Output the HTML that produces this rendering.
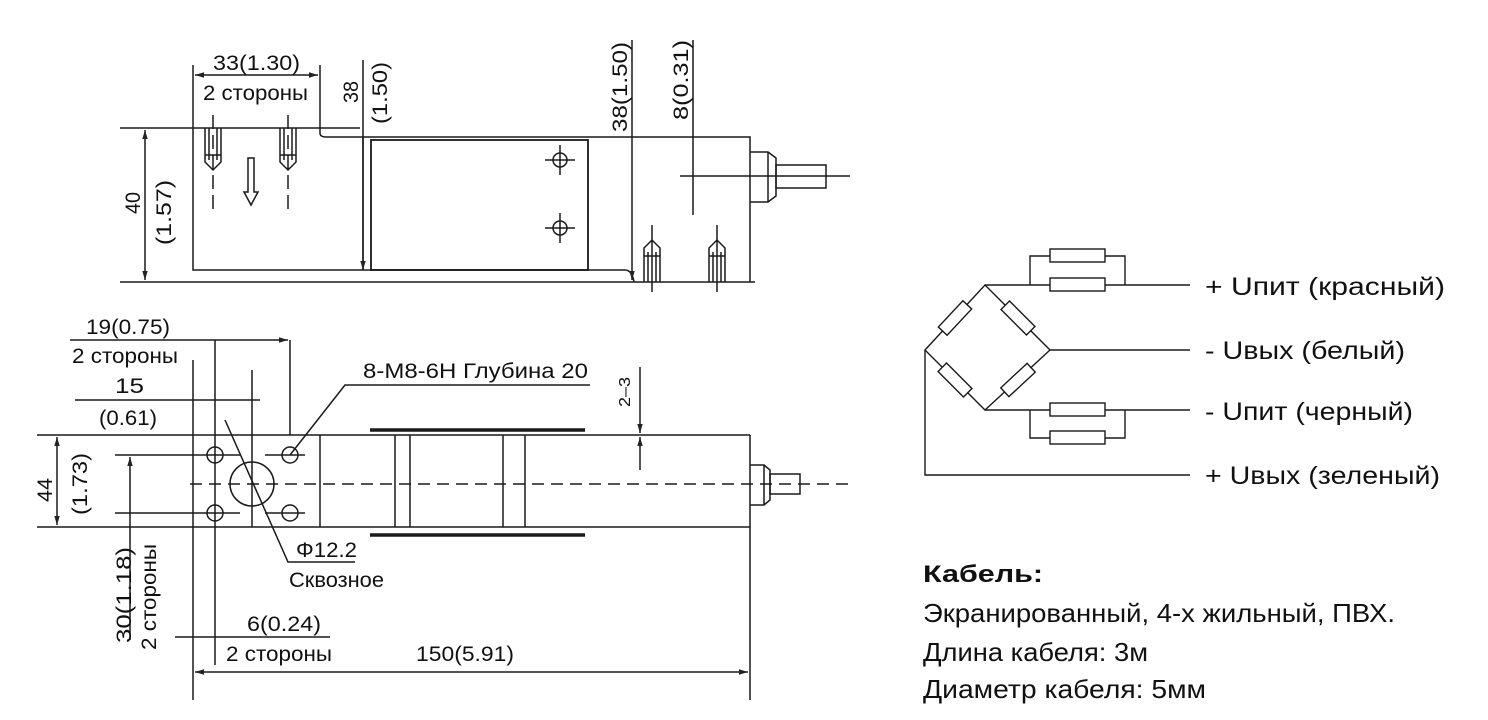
<!DOCTYPE html>
<html><head><meta charset="utf-8"><style>
html,body{margin:0;padding:0;background:#fff;}
svg{display:block;}
text{font-family:"Liberation Sans Narrow","Liberation Sans",sans-serif;fill:#111;}
.w text{font-family:"Liberation Sans",sans-serif;}
</style></head><body>
<svg width="1488" height="720" viewBox="0 0 1488 720" xmlns="http://www.w3.org/2000/svg">
<defs>
<marker id="a" viewBox="0 0 10 10" refX="10" refY="5" markerWidth="8" markerHeight="6" orient="auto-start-reverse"><path d="M0,2 L10,5 L0,8z" fill="#222"/></marker>
</defs>
<g stroke="#1a1a1a" stroke-width="1.5" fill="none">
<line x1="120" y1="128" x2="360" y2="128"/>
<line x1="120" y1="282" x2="755" y2="282"/>
<path d="M193,128 V270 H625 Q632,270 634,282"/>
<path d="M320,128 V134 Q321,137 326,137 H750 V282"/>
<path d="M363,137 V270"/>
<rect x="371" y="140" width="217" height="130" stroke-width="1.8"/>
<line x1="193" y1="65" x2="193" y2="128"/><line x1="320" y1="65" x2="320" y2="128"/>
<line x1="195" y1="75" x2="318" y2="75" marker-start="url(#a)" marker-end="url(#a)"/>
<line x1="363" y1="60" x2="363" y2="270" marker-end="url(#a)"/>
<line x1="145" y1="130" x2="145" y2="280" marker-start="url(#a)" marker-end="url(#a)"/>
<line x1="632" y1="40" x2="632" y2="280" marker-end="url(#a)"/>
<line x1="693" y1="40" x2="693" y2="215"/>
<path d="M205,128 V162 L213,170 L221,162 V128 M209,128 V160 M217,128 V160 M205,155 H221"/>
<path d="M280,128 V162 L288,170 L296,162 V128 M284,128 V160 M292,128 V160 M280,155 H296"/>
<line x1="213" y1="115" x2="213" y2="210" stroke-dasharray="14,6"/>
<line x1="288" y1="115" x2="288" y2="210" stroke-dasharray="14,6"/>
<path d="M248,158 V192 H244 L251,205 L258,192 H254 V158 Z"/>
<circle cx="560" cy="160" r="7"/><line x1="545" y1="160" x2="575" y2="160"/><line x1="560" y1="145" x2="560" y2="175"/>
<circle cx="560" cy="228" r="7"/><line x1="545" y1="228" x2="575" y2="228"/><line x1="560" y1="213" x2="560" y2="243"/>
<path d="M644,282 V248 L652,240 L660,248 V282 M648,282 V252 M656,282 V252 M644,256 H660"/>
<path d="M709,282 V248 L717,240 L725,248 V282 M713,282 V252 M721,282 V252 M709,256 H725"/>
<line x1="652" y1="225" x2="652" y2="292"/><line x1="717" y1="225" x2="717" y2="292"/>
<path d="M750,152 H768 L776,158 V196 L768,202 H750"/>
<line x1="768" y1="152" x2="768" y2="202"/>
<rect x="776" y="165" width="50" height="23"/>
<line x1="680" y1="176" x2="850" y2="176"/>
<line x1="37" y1="435" x2="750" y2="435"/>
<line x1="37" y1="527" x2="750" y2="527"/>
<line x1="750" y1="435" x2="750" y2="700"/>
<line x1="320" y1="435" x2="320" y2="527"/>
<line x1="395" y1="435" x2="395" y2="527"/><line x1="410" y1="435" x2="410" y2="527"/>
<line x1="503" y1="435" x2="503" y2="527"/><line x1="525" y1="435" x2="525" y2="527"/>
<line x1="370" y1="430" x2="585" y2="430" stroke-width="3.5"/>
<line x1="370" y1="535" x2="585" y2="535" stroke-width="3.5"/>
<line x1="190" y1="484" x2="850" y2="484" stroke-dasharray="12,7"/>
<path d="M750,465 H764 L770,470 V500 L764,505 H750 M764,465 V505"/>
<rect x="770" y="474" width="30" height="20"/>
<line x1="193" y1="360" x2="193" y2="700"/>
<line x1="215" y1="340" x2="215" y2="665"/>
<line x1="290" y1="340" x2="290" y2="435"/>
<line x1="252" y1="370" x2="252" y2="527"/>
<circle cx="215" cy="455" r="8"/><circle cx="290" cy="455" r="8"/>
<circle cx="215" cy="513" r="8"/><circle cx="290" cy="513" r="8"/>
<circle cx="252" cy="484" r="22"/>
<line x1="115" y1="455" x2="240" y2="455"/><line x1="265" y1="455" x2="305" y2="455"/>
<line x1="115" y1="513" x2="240" y2="513"/><line x1="265" y1="513" x2="305" y2="513"/>
<line x1="130" y1="457" x2="130" y2="640" marker-start="url(#a)"/>
<line x1="57" y1="437" x2="57" y2="525" marker-start="url(#a)" marker-end="url(#a)"/>
<line x1="70" y1="340" x2="288" y2="340" marker-end="url(#a)"/>
<line x1="75" y1="400" x2="260" y2="400"/>
<line x1="175" y1="637" x2="330" y2="637"/>
<line x1="195" y1="672" x2="748" y2="672" marker-start="url(#a)" marker-end="url(#a)"/>
<path d="M590,385 H345 L290,455"/>
<path d="M225,420 L288,562 H355"/>
<line x1="640" y1="367" x2="640" y2="433" marker-end="url(#a)"/>
<line x1="640" y1="470" x2="640" y2="437" marker-end="url(#a)"/>
</g>
<g font-size="21" lengthAdjust="spacingAndGlyphs">
<text x="213" y="70" textLength="87" lengthAdjust="spacingAndGlyphs">33(1.30)</text>
<text x="203" y="100" textLength="105" lengthAdjust="spacingAndGlyphs">2 стороны</text>
<text transform="translate(358,103) rotate(-90)" textLength="22" lengthAdjust="spacingAndGlyphs">38</text>
<text transform="translate(387,124) rotate(-90)" textLength="62" lengthAdjust="spacingAndGlyphs">(1.50)</text>
<text transform="translate(627,132) rotate(-90)" textLength="90" lengthAdjust="spacingAndGlyphs">38(1.50)</text>
<text transform="translate(688,120) rotate(-90)" textLength="80" lengthAdjust="spacingAndGlyphs">8(0.31)</text>
<text transform="translate(140,214) rotate(-90)" textLength="22" lengthAdjust="spacingAndGlyphs">40</text>
<text transform="translate(171,245) rotate(-90)" textLength="65" lengthAdjust="spacingAndGlyphs">(1.57)</text>
<text x="86" y="334" textLength="84" lengthAdjust="spacingAndGlyphs">19(0.75)</text>
<text x="72" y="363" textLength="106" lengthAdjust="spacingAndGlyphs">2 стороны</text>
<text x="115" y="393" textLength="29" lengthAdjust="spacingAndGlyphs">15</text>
<text x="99" y="425" textLength="58" lengthAdjust="spacingAndGlyphs">(0.61)</text>
<text x="363" y="378" textLength="225" lengthAdjust="spacingAndGlyphs">8-M8-6H Глубина 20</text>
<text x="296" y="557" textLength="61" lengthAdjust="spacingAndGlyphs">Φ12.2</text>
<text x="289" y="587" textLength="95" lengthAdjust="spacingAndGlyphs">Сквозное</text>
<text transform="translate(52,502) rotate(-90)" textLength="24" lengthAdjust="spacingAndGlyphs">44</text>
<text transform="translate(87,515) rotate(-90)" textLength="62" lengthAdjust="spacingAndGlyphs">(1.73)</text>
<text transform="translate(630,407) rotate(-90)" font-size="16" textLength="30" lengthAdjust="spacingAndGlyphs">2–3</text>
<text transform="translate(131,643) rotate(-90)" textLength="96" lengthAdjust="spacingAndGlyphs">30(1.18)</text>
<text transform="translate(156,650) rotate(-90)" textLength="106" lengthAdjust="spacingAndGlyphs">2 стороны</text>
<text x="247" y="631" textLength="74" lengthAdjust="spacingAndGlyphs">6(0.24)</text>
<text x="226" y="661" textLength="106" lengthAdjust="spacingAndGlyphs">2 стороны</text>
<text x="416" y="661" textLength="98" lengthAdjust="spacingAndGlyphs">150(5.91)</text>
</g>
<g stroke="#1a1a1a" stroke-width="1.4" fill="none">
<path d="M925,350 L985,285 L1050,350 L985,410 Z"/>
<path d="M985,285 H1190 M1050,350 H1190 M985,410 H1190 M925,350 V475 H1190"/>
<path d="M1030,285 V256 H1125 V285 M1030,410 V438 H1125 V410"/>
<g fill="#fff">
<rect x="1050" y="249" width="55" height="13"/><rect x="1050" y="278" width="55" height="13"/>
<rect x="1050" y="403" width="55" height="13"/><rect x="1050" y="431" width="55" height="13"/>
<rect x="-18" y="-6" width="36" height="12" transform="translate(955,318) rotate(-47)"/>
<rect x="-18" y="-6" width="36" height="12" transform="translate(1018,318) rotate(45)"/>
<rect x="-18" y="-6" width="36" height="12" transform="translate(955,380) rotate(45)"/>
<rect x="-18" y="-6" width="36" height="12" transform="translate(1018,380) rotate(-43)"/>
</g>
</g>
<g class="w" font-size="25">
<text x="1205" y="295" textLength="240" lengthAdjust="spacingAndGlyphs">+ Uпит (красный)</text>
<text x="1205" y="359" textLength="200" lengthAdjust="spacingAndGlyphs">-  Uвых (белый)</text>
<text x="1205" y="420" textLength="208" lengthAdjust="spacingAndGlyphs">-  Uпит (черный)</text>
<text x="1205" y="484" textLength="235" lengthAdjust="spacingAndGlyphs">+  Uвых (зеленый)</text>
<text x="923" y="582" font-weight="bold" font-size="24" textLength="120" lengthAdjust="spacingAndGlyphs">Кабель:</text>
<text x="923" y="622" font-size="26" textLength="472" lengthAdjust="spacingAndGlyphs">Экранированный, 4-х жильный, ПВХ.</text>
<text x="923" y="661" font-size="26" textLength="225" lengthAdjust="spacingAndGlyphs">Длина кабеля: 3м</text>
<text x="923" y="698" font-size="26" textLength="283" lengthAdjust="spacingAndGlyphs">Диаметр кабеля:  5мм</text>
</g>
</svg>
</body></html>
